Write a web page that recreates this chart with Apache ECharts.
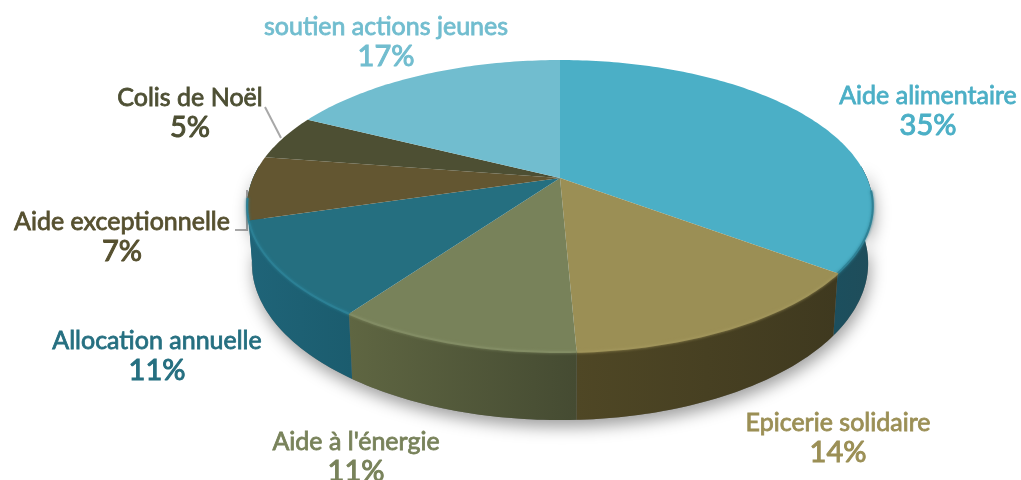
<!DOCTYPE html>
<html>
<head>
<meta charset="utf-8">
<style>
  html, body { margin: 0; background: #fff; }
  #chart { width: 1021px; height: 480px; }
</style>
<script src="https://cdn.jsdelivr.net/npm/echarts@6/dist/echarts.min.js"></script>
</head>
<body>
<div id="chart"></div>
<script>
const categories = ['Aide alimentaire', 'Epicerie solidaire', "Aide à l'énergie", 'Allocation annuelle', 'Aide exceptionnelle', 'Colis de Noël', 'soutien actions jeunes'];
const values = [35.1, 14.0, 10.5, 10.5, 7.0, 5.0, 17.49];

// couleurs
const topColors = ['#4bafc6', '#9b8f55', '#78825a', '#256f80', '#635631', '#4d4f33', '#71bdcf'];
const sideLeft = ['#1c4f5e', '#4f4725', '#5f6642', '#1f6478', '#1f6478', '#1f6478', '#1c4f5e'];
const sideRight = ['#1f4d5a', '#3f391f', '#454b32', '#1b5c6e', '#1f6478', '#1f6478', '#1f4d5a'];
const rimColors = ['#2f8296', '#a0945a', '#828c64', '#2c8095', '#2c8095', '#4d4f33', '#71bdcf'];
const labelColors = ['#4bafc6', '#9b8f55', '#78825a', '#256f80', '#56502f', '#4d4f33', '#71bdcf'];

// position du centre de chaque etiquette (x, y du nom)
const labelPos = [[928, 96], [838, 423], [356, 442], [157, 341], [122, 222], [190, 98], [386, 27]];

// camembert en perspective
const cx = 560, cy = 178, a = 307, b = 140.6, persp = 0.192, depth = 55;
const total = values.reduce((s, v) => s + v, 0);

function topPoint(deg) {
  const t = deg * Math.PI / 180;
  const u = Math.sin(t), v = -Math.cos(t);
  const w = 1 - persp * v;
  return [cx + a * u / w, cy + b * v / w];
}
function bottomPoint(deg) {
  const t = deg * Math.PI / 180;
  const w = 1 + persp * Math.cos(t);
  const p = topPoint(deg);
  return [cx + (p[0] - cx) * 0.985, p[1] + depth / w];
}
function arc(from, to, fn) {
  const pts = [];
  for (let d = from; d < to; d += 1) pts.push(fn(d));
  pts.push(fn(to));
  return pts;
}
function sliceRange(i) {
  const before = values.slice(0, i).reduce((s, v) => s + v, 0);
  return [before / total * 360, (before + values[i]) / total * 360];
}

function renderShadow() {
  const pts = arc(85, 275, bottomPoint).concat(arc(85, 275, topPoint).reverse());
  return {
    type: 'polygon',
    shape: { points: pts },
    style: { fill: '#777', shadowBlur: 16, shadowColor: 'rgba(0,0,0,0.38)', shadowOffsetX: 2, shadowOffsetY: 7 }
  };
}

function renderSide(params) {
  const i = params.dataIndex;
  const r = sliceRange(i);
  const from = Math.max(r[0], 85), to = Math.min(r[1], 275);
  if (from >= to) return null;
  const pts = arc(from, to, topPoint).concat(arc(from, to, bottomPoint).reverse());
  return {
    type: 'polygon',
    shape: { points: pts },
    style: {
      fill: new echarts.graphic.LinearGradient(0, 0, 1, 0, [
        { offset: 0, color: sideLeft[i] },
        { offset: 1, color: sideRight[i] }
      ])
    }
  };
}

function renderTop(params) {
  const i = params.dataIndex;
  const r = sliceRange(i);
  const children = [{
    type: 'polygon',
    shape: { points: [[cx, cy]].concat(arc(r[0], r[1], topPoint)) },
    style: { fill: topColors[i] }
  }];
  const from = Math.max(r[0], 95), to = Math.min(r[1], 262);
  if (from < to) {
    children.push({
      type: 'polyline',
      shape: { points: arc(from, to, topPoint) },
      style: { stroke: rimColors[i], lineWidth: 2, fill: 'none', shadowBlur: 3, shadowColor: rimColors[i] }
    });
  }
  return { type: 'group', children: children };
}

const labels = [];
categories.forEach(function (name, i) {
  labels.push({
    type: 'text', x: labelPos[i][0], y: labelPos[i][1],
    style: { text: name, fill: labelColors[i], stroke: labelColors[i], lineWidth: 0.8, font: '25px Lato', align: 'center', verticalAlign: 'middle' }
  });
  labels.push({
    type: 'text', x: labelPos[i][0], y: labelPos[i][1] + 30,
    style: { text: Math.round(values[i]) + '%', fill: labelColors[i], stroke: labelColors[i], lineWidth: 1, font: '29px Lato', align: 'center', verticalAlign: 'middle' }
  });
});
// traits de rappel
const leaders = [
  [[265, 107], [281, 138]],
  [[235, 230], [247, 230], [247, 190]]
].map(function (pts) {
  return { type: 'polyline', shape: { points: pts }, style: { stroke: '#a8a8a8', lineWidth: 2, fill: 'none' } };
});

const chart = echarts.init(document.getElementById('chart'));
chart.setOption({
  animation: false,
  backgroundColor: '#fff',
  graphic: { elements: leaders.concat(labels) },
  series: [
    { type: 'custom', coordinateSystem: 'none', silent: true, z: 1, data: [0], renderItem: renderShadow },
    { type: 'custom', coordinateSystem: 'none', silent: true, z: 2, data: values, renderItem: renderSide },
    { type: 'custom', coordinateSystem: 'none', silent: true, z: 3, data: values, renderItem: renderTop }
  ]
});
</script>
</body>
</html>
